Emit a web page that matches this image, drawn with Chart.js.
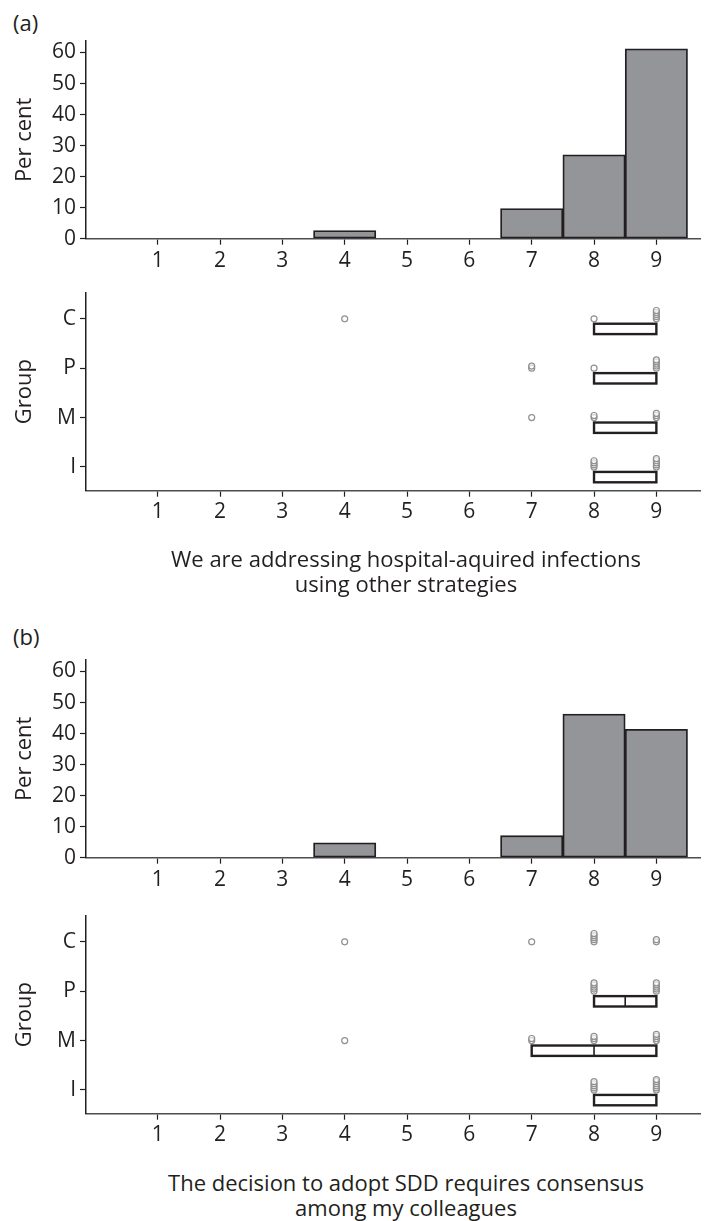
<!DOCTYPE html>
<html>
<head>
<meta charset="utf-8">
<script src="https://cdn.jsdelivr.net/npm/chart.js@4.4.1/dist/chart.umd.min.js"></script>
<style>
  body { margin: 0; background: #fff; font-family: 'Open Sans', sans-serif; color: #231f20; }
  #wrap { position: relative; width: 718px; height: 1221px; overflow: hidden; }
  canvas { position: absolute; left: 0; }
  .tag { position: absolute; left: 13px; font-size: 22px; line-height: 24px; }
  .cap { position: absolute; left: 0; width: 812px; text-align: center; font-size: 22px; line-height: 25px; }
</style>
</head>
<body>
<div id="wrap">
  <div class="tag" style="top:10px">(a)</div>
  <canvas id="histA" width="718" height="290" style="top:0"></canvas>
  <canvas id="boxA" width="718" height="254" style="top:276px"></canvas>
  <div class="cap" style="top:546px">We are addressing hospital-aquired infections<br>using other strategies</div>

  <div class="tag" style="top:624px">(b)</div>
  <canvas id="histB" width="718" height="290" style="top:619px"></canvas>
  <canvas id="boxB" width="718" height="254" style="top:899px"></canvas>
  <div class="cap" style="top:1170px">The decision to adopt SDD requires consensus<br>among my colleagues</div>
</div>
<script>
const scores = [1, 2, 3, 4, 5, 6, 7, 8, 9];
const percentTicks = [0, 10, 20, 30, 40, 50, 60];
const groups = ['I', 'M', 'P', 'C'];

// per cent of respondents per score
const percentA = [0, 0, 0, 2.6, 0, 0, 9.7, 27.0, 61.2];
const percentB = [0, 0, 0, 4.8, 0, 0, 7.1, 46.3, 41.4];

// respondents per score, per group (dot stacks)
const dotsA_I = [0, 0, 0, 0, 0, 0, 0, 4, 5];
const dotsA_M = [0, 0, 0, 0, 0, 0, 1, 2, 3];
const dotsA_P = [0, 0, 0, 0, 0, 0, 2, 1, 5];
const dotsA_C = [0, 0, 0, 1, 0, 0, 0, 1, 5];
const dotsB_I = [0, 0, 0, 0, 0, 0, 0, 5, 6];
const dotsB_M = [0, 0, 0, 1, 0, 0, 2, 3, 4];
const dotsB_P = [0, 0, 0, 0, 0, 0, 0, 5, 5];
const dotsB_C = [0, 0, 0, 1, 0, 0, 1, 5, 2];

// box quartiles, order I, M, P, C
const boxA_q1 = [8, 8, 8, 8];
const boxA_med = [9, 9, 9, 9];
const boxA_q3 = [9, 9, 9, 9];
const boxB_q1 = [8, 7, 8, null];
const boxB_med = [9, 8, 8.5, null];
const boxB_q3 = [9, 9, 9, null];

const ink = '#231f20';
const fontFamily = "'Open Sans', sans-serif";

function xScale(height, pad) {
  return {
    type: 'linear', min: -0.15, max: 9.7, offset: false,
    afterBuildTicks: s => { s.ticks = scores.map(v => ({ value: v })); },
    afterFit: s => { s.height = height; },
    grid: { drawOnChartArea: false, offset: false, tickLength: 6, color: ink, tickWidth: 1.2 },
    border: { color: '#4d4d4f', width: 1.5 },
    ticks: { color: ink, font: { size: 21, family: fontFamily }, padding: pad, maxRotation: 0, autoSkip: false }
  };
}

function yTitle(text) {
  return { display: true, text, color: ink, font: { size: 22, family: fontFamily }, padding: { top: 12, bottom: 0 } };
}

function histChart(id, values) {
  new Chart(document.getElementById(id), {
    type: 'bar',
    data: {
      datasets: [{
        data: scores.map((s, i) => ({ x: s, y: values[i] })),
        backgroundColor: '#939598',
        borderColor: ink,
        borderWidth: 1.8,
        borderSkipped: false,
        barPercentage: 1,
        categoryPercentage: 1
      }]
    },
    options: {
      responsive: false,
      animation: false,
      layout: { padding: { top: 41, right: 18, left: 0, bottom: 0 } },
      plugins: { legend: { display: false }, tooltip: { enabled: false } },
      scales: {
        x: xScale(51.3, 4),
        y: {
          min: 0, max: 63.7,
          afterBuildTicks: s => { s.ticks = percentTicks.map(v => ({ value: v })); },
          afterFit: s => { s.width = 86; },
          grid: { drawOnChartArea: false, tickLength: 6, color: ink, tickWidth: 1.2 },
          border: { color: ink, width: 1.5 },
          ticks: { color: ink, font: { size: 21, family: fontFamily }, padding: 4 },
          title: yTitle('Per cent')
        }
      }
    }
  });
}

const boxPlugin = {
  id: 'boxes',
  afterDatasetsDraw(chart, args, opts) {
    const { ctx } = chart;
    const x = chart.scales.x, y = chart.scales.y;
    ctx.save();
    ctx.strokeStyle = ink;
    opts.q1.forEach((q1, g) => {
      const q3 = opts.q3[g], med = opts.med[g];
      if (q1 == null) return;
      const x1 = x.getPixelForValue(q1), x2 = x.getPixelForValue(q3);
      const y1 = y.getPixelForValue(g + 1 - 0.1), y2 = y.getPixelForValue(g + 1 - 0.31);
      ctx.lineWidth = 2.4;
      ctx.strokeRect(x1, y1, x2 - x1, y2 - y1);
      if (med > q1 && med < q3) {
        const xm = x.getPixelForValue(med);
        ctx.lineWidth = 1.6;
        ctx.beginPath();
        ctx.moveTo(xm, y1);
        ctx.lineTo(xm, y2);
        ctx.stroke();
      }
    });
    ctx.restore();
  }
};

function boxChart(id, dotRows, q1, med, q3) {
  const points = [];
  dotRows.forEach((row, g) => {
    row.forEach((n, i) => {
      for (let k = 0; k < n; k++) points.push({ x: scores[i], y: g + 1 + k * 0.042 });
    });
  });
  new Chart(document.getElementById(id), {
    type: 'scatter',
    data: {
      datasets: [{
        data: points,
        pointRadius: 3,
        pointBorderWidth: 1.2,
        borderColor: '#8e9093',
        backgroundColor: 'rgba(255,255,255,0.6)'
      }]
    },
    plugins: [boxPlugin],
    options: {
      responsive: false,
      animation: false,
      layout: { padding: { top: 0, right: 18, left: 0, bottom: 0 } },
      plugins: {
        legend: { display: false }, tooltip: { enabled: false },
        boxes: { q1, med, q3 }
      },
      scales: {
        x: xScale(39.3, 3),
        y: {
          min: 0.52, max: 4.53,
          afterBuildTicks: s => { s.ticks = groups.map((v, i) => ({ value: i + 1 })); },
          afterFit: s => { s.width = 86; },
          grid: { drawOnChartArea: false, tickLength: 6, color: ink, tickWidth: 1.2 },
          border: { color: ink, width: 1.5 },
          ticks: { color: ink, font: { size: 21, family: fontFamily }, padding: 4, callback: v => groups[v - 1] },
          title: yTitle('Group')
        }
      }
    }
  });
}

histChart('histA', percentA);
boxChart('boxA', [dotsA_I, dotsA_M, dotsA_P, dotsA_C], boxA_q1, boxA_med, boxA_q3);
histChart('histB', percentB);
boxChart('boxB', [dotsB_I, dotsB_M, dotsB_P, dotsB_C], boxB_q1, boxB_med, boxB_q3);
</script>
</body>
</html>
